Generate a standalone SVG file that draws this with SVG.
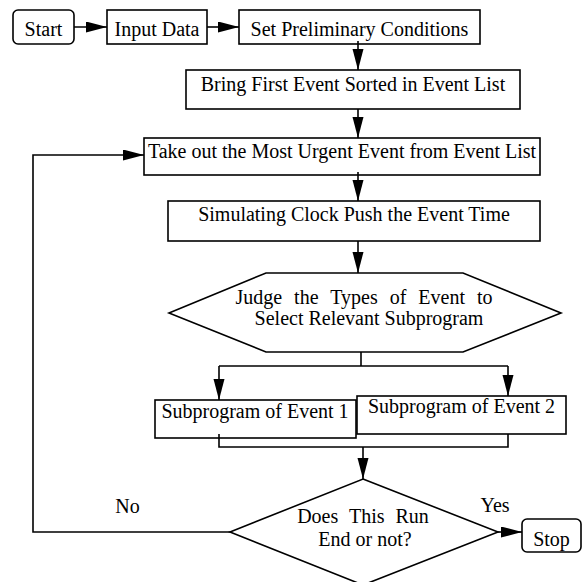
<svg xmlns="http://www.w3.org/2000/svg" width="583" height="582" viewBox="0 0 583 582">
<style>
.box{fill:#fff;stroke:#000;stroke-width:1.6}
.ln{fill:none;stroke:#000;stroke-width:1.6}
.t{font-family:"Liberation Serif","Times New Roman",serif;font-size:20px;fill:#000;text-anchor:middle}
</style>
<defs>
<marker id="ah" markerUnits="userSpaceOnUse" markerWidth="22" markerHeight="12" refX="21" refY="5.5" orient="auto">
<path d="M0,0 L21,5.5 L0,11 z" fill="#000"/>
</marker>
</defs>
<rect width="583" height="582" fill="#fff"/>
<g id="start">
<rect class="box" x="13" y="10" width="61" height="34" rx="5"/>
<text class="t" x="43.5" y="36">Start</text>
</g>
<g id="input">
<rect class="box" x="107" y="10" width="100" height="34"/>
<text class="t" x="157" y="36">Input Data</text>
</g>
<g id="setcond">
<rect class="box" x="239" y="10" width="241" height="34"/>
<text class="t" x="359.5" y="36">Set Preliminary Conditions</text>
</g>
<g id="bring">
<rect class="box" x="186" y="70" width="334" height="39"/>
<text class="t" x="353" y="91">Bring First Event Sorted in Event List</text>
</g>
<g id="takeout">
<rect class="box" x="144" y="138" width="396" height="37"/>
<text class="t" x="342" y="158">Take out the Most Urgent Event from Event List</text>
</g>
<g id="clock">
<rect class="box" x="168" y="201" width="372" height="40"/>
<text class="t" x="354" y="221">Simulating Clock Push the Event Time</text>
</g>
<g id="judge">
<polygon class="box" points="266,273 463,273 561,313 463,352 266,352 169,313"/>
<text class="t" x="364" y="304" word-spacing="7">Judge the Types of Event to</text>
<text class="t" x="369" y="325">Select Relevant Subprogram</text>
</g>
<g id="sub1">
<rect class="box" x="155" y="400" width="201" height="38"/>
<text class="t" x="255" y="418">Subprogram of Event 1</text>
</g>
<g id="sub2">
<rect class="box" x="357" y="396" width="209" height="38"/>
<text class="t" x="461.5" y="413">Subprogram of Event 2</text>
</g>
<g id="decide">
<polygon class="box" points="363,479 498,532 363,585 230,532"/>
<text class="t" x="363" y="523" word-spacing="6">Does This Run</text>
<text class="t" x="365" y="546">End or not?</text>
</g>
<g id="stop">
<rect class="box" x="522" y="519" width="59" height="33" rx="5"/>
<text class="t" x="551.5" y="546">Stop</text>
</g>
<g id="connectors">
<line class="ln" x1="74" y1="27" x2="107" y2="27" marker-end="url(#ah)"/>
<line class="ln" x1="207" y1="27" x2="239" y2="27" marker-end="url(#ah)"/>
<line class="ln" x1="358" y1="41" x2="358" y2="70" marker-end="url(#ah)"/>
<line class="ln" x1="358" y1="109" x2="358" y2="138" marker-end="url(#ah)"/>
<line class="ln" x1="358" y1="172" x2="358" y2="201" marker-end="url(#ah)"/>
<line class="ln" x1="358" y1="241" x2="358" y2="273" marker-end="url(#ah)"/>
<polyline class="ln" points="361,352 361,366"/>
<polyline class="ln" points="219,366 508,366"/>
<line class="ln" x1="219" y1="366" x2="219" y2="400" marker-end="url(#ah)"/>
<line class="ln" x1="508" y1="366" x2="508" y2="396" marker-end="url(#ah)"/>
<polyline class="ln" points="219,434 219,447 508,447 508,434"/>
<line class="ln" x1="363" y1="447" x2="363" y2="479" marker-end="url(#ah)"/>
<polyline class="ln" points="230,532 33,532 33,155 144,155" marker-end="url(#ah)"/>
<line class="ln" x1="498" y1="532" x2="522" y2="532" marker-end="url(#ah)"/>
<text class="t" x="127.5" y="513">No</text>
<text class="t" x="495" y="512">Yes</text>
</g>
</svg>
